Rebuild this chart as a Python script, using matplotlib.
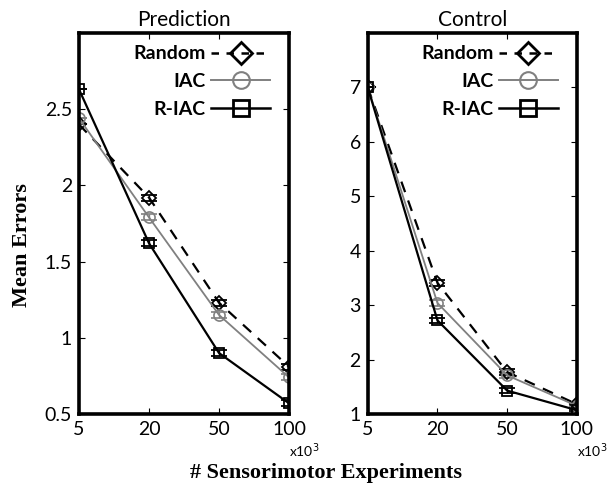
import matplotlib

matplotlib.use("Agg")
import matplotlib.pyplot as plt
from matplotlib.lines import Line2D
from matplotlib.ticker import FormatStrFormatter

SANS = ["Lato", "DejaVu Sans"]
SERIF = ["Liberation Serif", "DejaVu Serif"]

X_LABELS = ["5", "20", "50", "100"]

PRED_RANDOM = [2.40, 1.92, 1.23, 0.81]
PRED_IAC = [2.44, 1.79, 1.15, 0.74]
PRED_RIAC = [2.63, 1.62, 0.90, 0.57]

CTRL_RANDOM = [7.0, 3.41, 1.77, 1.18]
CTRL_IAC = [7.0, 3.04, 1.71, 1.15]
CTRL_RIAC = [7.0, 2.72, 1.43, 1.07]

ERR = [0.0, 0.02, 0.02, 0.02]
CTRL_ERR = [0.0, 0.05, 0.05, 0.02]

PRED_YTICKS = [0.5, 1, 1.5, 2, 2.5]
CTRL_YTICKS = [1, 2, 3, 4, 5, 6, 7]

GRAY = "#808080"
DASH = (0, (5, 4))


def draw_panel(ax, title, random, iac, riac, err, ylim, yticks):
    xs = list(range(len(X_LABELS)))
    ax.errorbar(xs, random, yerr=err, color="black", ls=DASH, lw=1.6,
                marker="D", ms=7, mfc="none", mew=1.3, capsize=6, elinewidth=1.0)
    ax.errorbar(xs, iac, yerr=err, color=GRAY, ls="-", lw=1.3,
                marker="o", ms=8, mfc="none", mew=1.2, capsize=6, elinewidth=1.0)
    ax.errorbar(xs, riac, yerr=err, color="black", ls="-", lw=1.6,
                marker="s", ms=7, mfc="none", mew=1.3, capsize=6, elinewidth=1.0)
    ax.set_xlim(0, len(X_LABELS) - 1)
    ax.set_ylim(*ylim)
    ax.set_xticks(xs)
    ax.set_xticklabels(X_LABELS)
    ax.set_yticks(yticks)
    ax.yaxis.set_major_formatter(FormatStrFormatter("%g"))
    ax.tick_params(direction="in", top=True, right=True, length=4, width=0.8,
                   labelsize=14, pad=5)
    for lab in ax.get_xticklabels() + ax.get_yticklabels():
        lab.set_family(SANS)
    for sp in ax.spines.values():
        sp.set_linewidth(2.6)
    ax.set_title(title, family=SANS, fontsize=15, pad=5)

    handles = [
        Line2D([], [], color="black", ls=(0, (3, 3)), lw=1.8, marker="D", ms=11,
               mfc="none", mew=2.0),
        Line2D([], [], color=GRAY, ls="-", lw=1.4, marker="o", ms=12,
               mfc="none", mew=1.5),
        Line2D([], [], color="black", ls="-", lw=1.8, marker="s", ms=12,
               mfc="none", mew=2.0),
    ]
    ax.legend(handles, ["Random", "IAC", "R-IAC"], loc="upper right",
              bbox_to_anchor=(0.945, 0.988), borderaxespad=0.0,
              markerfirst=False, frameon=False, handlelength=3.0,
              labelspacing=0.55, handletextpad=0.3,
              prop={"family": SANS, "weight": "bold", "size": 14})
    ax.text(1.0, -0.072, r"x10$^3$", transform=ax.transAxes, ha="left", va="top",
            family=SANS, fontsize=10)


fig = plt.figure(figsize=(6.15, 4.95), dpi=100)
ax1 = fig.add_axes([0.1285, 0.1636, 0.3415, 0.7697])
ax2 = fig.add_axes([0.598, 0.1636, 0.340, 0.7697])

draw_panel(ax1, "Prediction", PRED_RANDOM, PRED_IAC, PRED_RIAC, ERR, (0.5, 3.0), PRED_YTICKS)
draw_panel(ax2, "Control", CTRL_RANDOM, CTRL_IAC, CTRL_RIAC, CTRL_ERR, (1, 8), CTRL_YTICKS)

fig.text(0.035, 0.505, "Mean Errors", rotation=90, ha="center", va="center",
         family=SERIF, weight="bold", fontsize=16)
fig.text(0.53, 0.045, "# Sensorimotor Experiments", ha="center", va="center",
         family=SERIF, weight="bold", fontsize=16)

fig.savefig("out.png", dpi=100, facecolor="white")
